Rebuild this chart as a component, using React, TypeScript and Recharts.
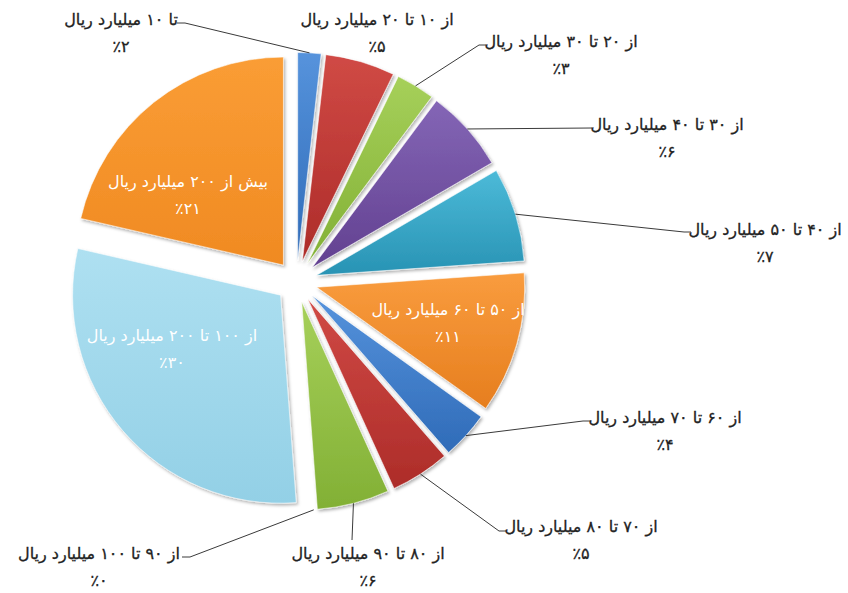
import React from "react";
import { PieChart, Pie, Cell, Sector } from "recharts";

// share of companies by revenue bracket (percent)
const CATEGORIES = [
  "تا ۱۰ میلیارد ریال",
  "از ۱۰ تا ۲۰ میلیارد ریال",
  "از ۲۰ تا ۳۰ میلیارد ریال",
  "از ۳۰ تا ۴۰ میلیارد ریال",
  "از ۴۰ تا ۵۰ میلیارد ریال",
  "از ۵۰ تا ۶۰ میلیارد ریال",
  "از ۶۰ تا ۷۰ میلیارد ریال",
  "از ۷۰ تا ۸۰ میلیارد ریال",
  "از ۸۰ تا ۹۰ میلیارد ریال",
  "از ۹۰ تا ۱۰۰ میلیارد ریال",
  "از ۱۰۰ تا ۲۰۰ میلیارد ریال",
  "بیش از ۲۰۰ میلیارد ریال",
];
const SHARES = [1.8, 5.4, 3.0, 6.4, 7.3, 11.0, 3.7, 4.6, 5.6, 0, 29.8, 21.4];

const COLORS = [
  ["#5693dc", "#2f6bb8"],
  ["#d04a45", "#ad2c29"],
  ["#a6d05a", "#82b035"],
  ["#8466b6", "#624090"],
  ["#4cbad8", "#2893b4"],
  ["#f99c3e", "#e67e1e"],
  ["#5693dc", "#2f6bb8"],
  ["#d04a45", "#ad2c29"],
  ["#a6d05a", "#82b035"],
  ["#8466b6", "#624090"],
  ["#aee0f1", "#93d0e6"],
  ["#fa9d35", "#f08a22"],
];

// label placement: centre of first text line, leader-line knee points
const LABEL_LAYOUT: { x: number; y: number; inside?: boolean; line?: number[][] }[] = [
  { x: 121, y: 20, line: [[185, 23], [177, 23]] },
  { x: 377, y: 20 },
  { x: 561, y: 42, line: [[479, 45], [486, 45]] },
  { x: 667, y: 125, line: [[592, 128]] },
  { x: 765, y: 230, line: [[684, 232], [691, 232]] },
  { x: 448, y: 310, inside: true },
  { x: 665, y: 418, line: [[583, 421], [591, 421]] },
  { x: 581, y: 527, line: [[499, 531], [506, 531]] },
  { x: 368, y: 554, line: [[352, 540]] },
  { x: 99, y: 554, line: [[190, 557], [182, 557]] },
  { x: 172, y: 336, inside: true },
  { x: 188, y: 182, inside: true },
];

const RAD = Math.PI / 180;
const EXPLODE = 21;
const FONT = "'DejaVu Sans', sans-serif";

const data = CATEGORIES.map((name, i) => ({ name, value: SHARES[i] }));

const toFa = (s: string) => s.replace(/\d/g, (d) => "۰۱۲۳۴۵۶۷۸۹"[+d]);

const ExplodedSector = (props: any) => {
  const { cx, cy, midAngle, startAngle, endAngle } = props;
  if (startAngle === endAngle) return null;
  const dx = EXPLODE * Math.cos(-midAngle * RAD);
  const dy = EXPLODE * Math.sin(-midAngle * RAD);
  return (
    <Sector
      {...props}
      cx={cx + dx}
      cy={cy + dy}
      stroke="rgba(255,255,255,0.55)"
      strokeWidth={1}
      filter="url(#sliceShadow)"
    />
  );
};

const renderLabel = (props: any) => {
  const { cx, cy, midAngle, outerRadius, index, percent } = props;
  const lay = LABEL_LAYOUT[index];
  const a = -midAngle * RAD;
  const r = outerRadius + EXPLODE;
  const px = cx + r * Math.cos(a);
  const py = cy + r * Math.sin(a);
  const fill = lay.inside ? "#ffffff" : "#222222";
  const pct = "٪" + toFa(String(Math.round(percent * 100)));
  const textProps = {
    x: lay.x,
    textAnchor: "middle" as const,
    dominantBaseline: "middle" as const,
    fill,
    fontSize: 16,
    fontFamily: FONT,
    stroke: lay.inside ? "none" : fill,
    strokeWidth: 0.3,
  };
  return (
    <g key={`lbl-${index}`}>
      {lay.line && (
        <polyline
          points={[[px, py], ...lay.line].map((p) => p.join(",")).join(" ")}
          fill="none"
          stroke="#3a3a3a"
          strokeWidth={1}
        />
      )}
      <text {...textProps} y={lay.y}>{CATEGORIES[index]}</text>
      <text {...textProps} y={lay.y + 27}>{pct}</text>
    </g>
  );
};

export default function App() {
  return (
    <div style={{ position: "absolute", left: 0, top: 0, width: 848, height: 593, background: "#ffffff" }}>
      <PieChart width={848} height={593} margin={{ top: 0, right: 0, bottom: 0, left: 0 }}>
        <defs>
          {COLORS.map(([light, dark], i) => (
            <linearGradient key={i} id={`slice${i}`} x1="0" y1="0" x2="0" y2="1">
              <stop offset="0%" stopColor={light} />
              <stop offset="100%" stopColor={dark} />
            </linearGradient>
          ))}
          <filter id="sliceShadow" x="-10%" y="-10%" width="130%" height="130%">
            <feDropShadow dx="1.5" dy="2" stdDeviation="1.5" floodColor="#000" floodOpacity="0.3" />
          </filter>
        </defs>
        <Pie
          data={data}
          dataKey="value"
          nameKey="name"
          cx={296.5}
          cy={281.5}
          outerRadius={208}
          startAngle={90}
          endAngle={-270}
          isAnimationActive={false}
          shape={ExplodedSector}
          label={renderLabel}
          labelLine={false}
        >
          {data.map((d, i) => (
            <Cell key={d.name} fill={`url(#slice${i})`} />
          ))}
        </Pie>
      </PieChart>
    </div>
  );
}
